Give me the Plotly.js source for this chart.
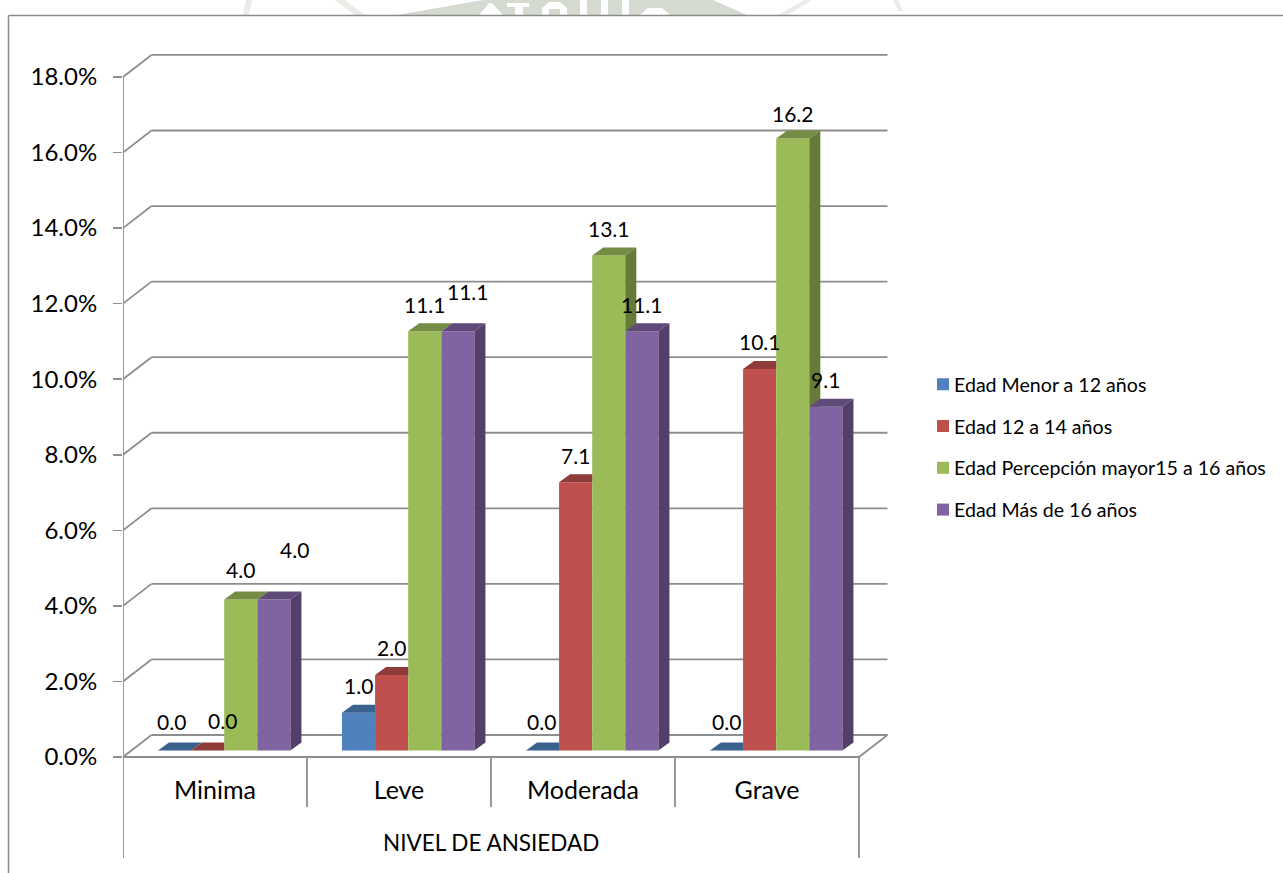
<!DOCTYPE html>
<html>
<head>
<meta charset="utf-8">
<script src="https://cdn.plot.ly/plotly-3.0.1.min.js"></script>
<style>html,body{margin:0;padding:0;background:#fff;overflow:hidden}</style>
</head>
<body>
<div id="chart" style="width:1283px;height:873px"></div>
<script>
// Anxiety level by age band, percentages
const categories = ["Minima", "Leve", "Moderada", "Grave"];
const seriesNames = ["Edad Menor a 12 años", "Edad 12 a 14 años", "Edad Percepción mayor15 a 16 años", "Edad Más de 16 años"];
const menor12 = [0.0, 1.0, 0.0, 0.0];
const edad12a14 = [0.0, 2.0, 7.1, 10.1];
const edad15a16 = [4.0, 11.1, 13.1, 16.2];
const mas16 = [4.0, 11.1, 11.1, 9.1];
const yTicks = [0, 2, 4, 6, 8, 10, 12, 14, 16, 18];
const axisTitle = "NIVEL DE ANSIEDAD";

const seriesValues = [menor12, edad12a14, edad15a16, mas16];
const frontColors = ["#4F81BD", "#C0504D", "#9BBB59", "#8064A2"];
const topColors = ["#3B618F", "#8F3B39", "#748C43", "#604A7A"];
const sideColors = ["#335478", "#7A3230", "#667A3A", "#533F69"];

// Plot frame in pixels; one category spans 184px, one percentage point 37.78px
const L = 123, R = 895, T = 50, B = 858, Y0 = 757;
const PX_X = 184, PX_Y = 37.78;
const xMax = (R - L) / PX_X, yMin = (Y0 - B) / PX_Y, yMax = (Y0 - T) / PX_Y;
const paperX = px => (px - L) / (R - L);
const paperY = py => (B - py) / (B - T);

// Depth of the box (walls) and of the columns, in axis units
const wallDX = 28.5 / PX_X, wallDY = 22 / PX_Y;
const barDX = 11 / PX_X, barDY = 8 / PX_Y;
const barBase = 6.5 / PX_Y, barStart = 0.19, barW = 0.18;
const barLeft = (c, s) => c + barStart + s * barW;

const GRID = "#8E8E8E";
const seg = (x0, y0, x1, y1, w) => ({type: "line", xref: "x", yref: "y", x0, y0, x1, y1, layer: "below", line: {color: GRID, width: w || 1.8}});

const shapes = [];

// Faint page seal showing through above the chart frame
const sealPoly = (points, color) => ({
  type: "path", xref: "paper", yref: "paper", line: {width: 0}, fillcolor: color,
  path: "M" + points.map(p => paperX(p[0]) + "," + paperY(p[1])).join("L") + "Z"
});
const SEAL = "#D5DAD0", SEAL_SOFT = "#EAECE7";
shapes.push(sealPoly([[397, 15], [483, 0], [713, 0], [747, 15]], SEAL));
shapes.push(sealPoly([[246, 0], [252, 0], [249, 15], [243, 15]], SEAL_SOFT));
shapes.push(sealPoly([[335, 0], [345, 0], [365, 15], [355, 15]], SEAL_SOFT));
shapes.push(sealPoly([[804, 0], [812, 0], [788, 15], [778, 15]], SEAL_SOFT));
shapes.push(sealPoly([[893, 0], [898, 0], [903, 11], [898, 11]], SEAL_SOFT));
[
  [[489, 3], [492, 3], [503, 15], [479, 15]],
  [[507, 3], [529, 3], [529, 7], [523, 7], [523, 15], [515, 15], [515, 7], [507, 7]],
  [[549, 2], [560, 2], [567, 8], [567, 15], [560, 15], [560, 9], [549, 9], [549, 15], [542, 15], [542, 8]],
  [[580, 0], [587, 0], [587, 15], [580, 15]],
  [[601, 0], [608, 0], [608, 15], [601, 15]],
  [[622, 0], [629, 0], [629, 15], [622, 15]],
  [[648, 8], [662, 8], [670, 15], [640, 15]]
].forEach(p => shapes.push(sealPoly(p, "#FFFFFF")));

// Back wall gridlines with their diagonals on the side wall
yTicks.forEach(v => {
  shapes.push(seg(0, v, wallDX, v + wallDY));
  shapes.push(seg(wallDX, v + wallDY, 4 + wallDX, v + wallDY));
});
// Floor, value axis and category separators
shapes.push(seg(0, 0, 4, 0));
shapes.push(seg(4, 0, 4 + wallDX, wallDY));
shapes.push(seg(0, yMin, 0, 18));
[1, 2, 3].forEach(c => shapes.push(seg(c, 0, c, -50 / PX_Y)));
shapes.push(seg(4, 0, 4, yMin));

// Chart frame, open towards the right and bottom
const frame = (x0, y0, x1, y1) => ({type: "line", xref: "paper", yref: "paper",
  x0: paperX(x0), y0: paperY(y0), x1: paperX(x1), y1: paperY(y1), line: {color: "#8A8A8A", width: 1.5}});
shapes.push(frame(8.5, 15.5, 1290, 15.5));
shapes.push(frame(8.5, 15.5, 8.5, 880));

const traces = [];
// Front faces
seriesValues.forEach((vals, s) => {
  traces.push({
    type: "bar", name: seriesNames[s], legendgroup: "g" + s,
    x: vals.map((_, c) => barLeft(c, s) + barW / 2),
    y: vals, base: vals.map(() => barBase), width: barW,
    marker: {color: frontColors[s], line: {width: 0}},
    hoverinfo: "name+y"
  });
});
// Top and side faces, painted series by series so nearer columns hide farther faces
seriesValues.forEach((vals, s) => {
  const next = seriesValues[s + 1];
  const topX = [], topY = [], sideX = [], sideY = [];
  vals.forEach((v, c) => {
    const xl = barLeft(c, s), xr = xl + barW, y = v + barBase;
    const hidden = next ? next[c] : -1;
    if (hidden > v) {
      topX.push(xl, xr, xr, xl + barDX, xl, null);
      topY.push(y, y, y + barDY, y + barDY, y, null);
    } else {
      topX.push(xl, xr, xr + barDX, xl + barDX, xl, null);
      topY.push(y, y, y + barDY, y + barDY, y, null);
    }
    if (hidden < v) {
      const low = next ? hidden + barBase : barBase;
      const lowFar = next ? low : barBase + barDY;
      sideX.push(xr, xr + barDX, xr + barDX, xr, xr, null);
      sideY.push(y, y + barDY, lowFar, low, y, null);
    }
  });
  const face = (x, y, color) => ({type: "scatter", mode: "lines", x, y, fill: "toself", fillcolor: color,
    line: {width: 0, color}, showlegend: false, hoverinfo: "skip", connectgaps: false});
  traces.push(face(topX, topY, topColors[s]));
  if (sideX.length) traces.push(face(sideX, sideY, sideColors[s]));
});

// Value labels sit above the column top; a few were dragged aside by hand (series,category)
const labelNudge = {
  "0,0": [-3, 2], "1,0": [15, 3], "2,0": [0, 3], "3,0": [21, 23], "3,1": [10, 13],
  "0,2": [-1, 2], "0,3": [0, 2], "2,3": [0, -2]
};
const annotations = [];
seriesValues.forEach((vals, s) => {
  vals.forEach((v, c) => {
    const n = labelNudge[s + "," + c] || [0, 0];
    annotations.push({
      xref: "x", yref: "y", x: barLeft(c, s) + barW / 2, y: v + barBase,
      text: v.toFixed(1), showarrow: false, yanchor: "middle", xanchor: "center",
      xshift: n[0], yshift: 27 + n[1],
      font: {family: "Lato", size: 21, color: "#000"}
    });
  });
});
annotations.push({
  xref: "x", yref: "y", x: 2, y: (Y0 - 842) / PX_Y, text: axisTitle, showarrow: false,
  font: {family: "Lato", size: 22.5, color: "#000"}
});

const layout = {
  width: 1283, height: 873,
  margin: {l: L, r: 1283 - R, t: T, b: 873 - B, pad: 0},
  paper_bgcolor: "#fff", plot_bgcolor: "rgba(0,0,0,0)",
  barmode: "overlay", showlegend: true,
  font: {family: "Lato", color: "#000"},
  xaxis: {
    type: "linear", range: [0, xMax], anchor: "free", position: paperY(Y0),
    tickmode: "array", tickvals: categories.map((_, c) => c + 0.5), ticktext: categories,
    ticks: "outside", ticklen: 11, tickcolor: "rgba(0,0,0,0)", tickfont: {family: "Lato", size: 25},
    showgrid: false, zeroline: false, showline: false
  },
  yaxis: {
    type: "linear", range: [yMin, yMax], tickmode: "array", tickvals: yTicks,
    ticktext: yTicks.map(v => v.toFixed(1) + "%"),
    ticks: "outside", ticklen: 9, tickwidth: 1.5, tickcolor: GRID, ticklabelstandoff: 11,
    tickfont: {family: "Lato", size: 24},
    showgrid: false, zeroline: false, showline: false
  },
  legend: {
    x: paperX(922), y: paperY(365), xanchor: "left", yanchor: "top", indentation: -8,
    font: {family: "Lato", size: 19.6}, tracegroupgap: 13.3, itemclick: false, itemdoubleclick: false,
    bgcolor: "rgba(0,0,0,0)"
  },
  shapes, annotations
};

Plotly.newPlot("chart", traces, layout, {displayModeBar: false, staticPlot: true}).then(() => {
  // Tighten the gap between each legend swatch and its text
  document.querySelectorAll("#chart .legend .legendsymbols").forEach(g => g.setAttribute("transform", "translate(9,0)"));
});
</script>
</body>
</html>
